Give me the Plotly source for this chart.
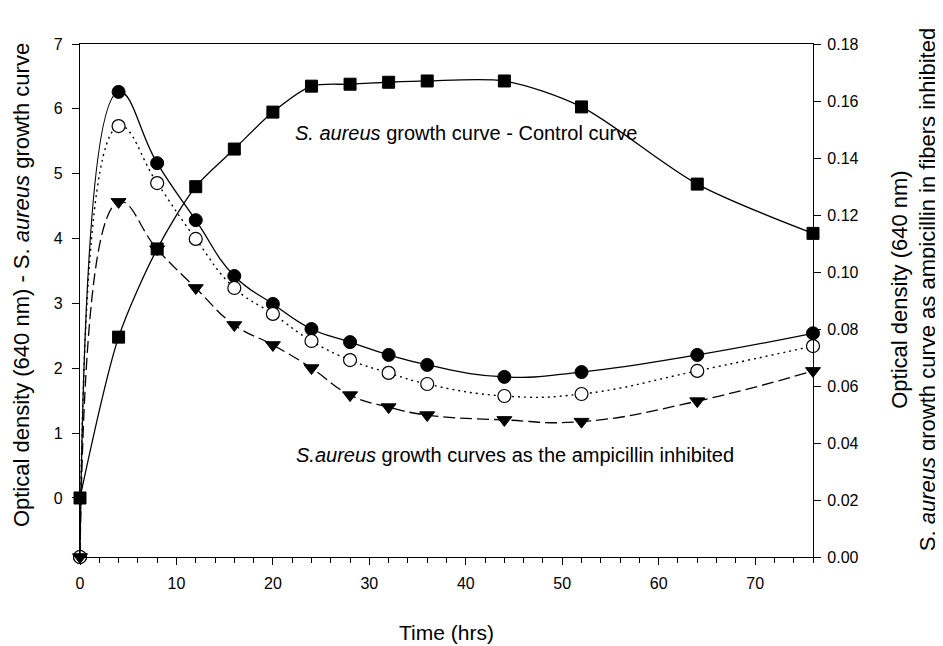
import plotly.graph_objects as go

# ---- data ----
time_hrs = [0, 4, 8, 12, 16, 20, 24, 28, 32, 36, 44, 52, 64, 76]
control_od = [0, 2.48, 3.84, 4.80, 5.38, 5.95, 6.35, 6.38, 6.41, 6.43, 6.43, 6.03, 4.84, 4.08]
inhib_filled = [0, 0.1632, 0.1382, 0.1182, 0.0986, 0.0888, 0.0800, 0.0754, 0.0709, 0.0674, 0.0632, 0.0649, 0.0709, 0.0785]
inhib_open = [0, 0.1512, 0.1312, 0.1116, 0.0944, 0.0853, 0.0758, 0.0691, 0.0646, 0.0607, 0.0565, 0.0572, 0.0653, 0.0740]
inhib_tri = [0, 0.1246, 0.1080, 0.0944, 0.0814, 0.0744, 0.0663, 0.0568, 0.0526, 0.0498, 0.0481, 0.0475, 0.0547, 0.0653]

x_ticks = [0, 10, 20, 30, 40, 50, 60, 70]
left_ticks = [0, 1, 2, 3, 4, 5, 6, 7]
right_ticks = [0.00, 0.02, 0.04, 0.06, 0.08, 0.10, 0.12, 0.14, 0.16, 0.18]

FONT = "Liberation Sans, Arial, sans-serif"
BLK = "black"

fig = go.Figure()

# inhibited series (right axis -> 'y', placed on right side)
fig.add_trace(go.Scatter(
    x=time_hrs, y=inhib_filled, yaxis="y", mode="lines+markers",
    line=dict(color=BLK, width=1.3, shape="spline", smoothing=1.3),
    marker=dict(symbol="circle", size=13, color=BLK, line=dict(color=BLK, width=1)),
    cliponaxis=False, showlegend=False))
fig.add_trace(go.Scatter(
    x=time_hrs, y=inhib_open, yaxis="y", mode="lines+markers",
    line=dict(color=BLK, width=1.4, shape="spline", smoothing=1.3, dash="2px,4px"),
    marker=dict(symbol="circle", size=13, color="white", line=dict(color=BLK, width=1.2)),
    cliponaxis=False, showlegend=False))
fig.add_trace(go.Scatter(
    x=time_hrs, y=inhib_tri, yaxis="y", mode="lines+markers",
    line=dict(color=BLK, width=1.3, shape="spline", smoothing=1.3, dash="12px,5px"),
    marker=dict(symbol="triangle-down", size=13, color=BLK, line=dict(color=BLK, width=1)),
    cliponaxis=False, showlegend=False))

# control curve (left axis -> 'y2' overlaying, side left)
fig.add_trace(go.Scatter(
    x=time_hrs, y=control_od, yaxis="y2", mode="lines+markers",
    line=dict(color=BLK, width=1.3, shape="spline", smoothing=0.8),
    marker=dict(symbol="square", size=12, color=BLK, line=dict(color=BLK, width=1)),
    cliponaxis=False, showlegend=False))

fig.update_layout(
    width=935, height=638,
    margin=dict(l=72, r=130, t=36, b=89, autoexpand=False),
    paper_bgcolor="white", plot_bgcolor="white",
    font=dict(family=FONT, size=16, color=BLK),
    xaxis=dict(
        range=[0, 76], tickvals=x_ticks, ticks="outside", ticklen=7, tickwidth=1,
        tickcolor=BLK, showline=True, linecolor=BLK, linewidth=1.2, mirror=True,
        showgrid=False, zeroline=False, ticklabelstandoff=5, automargin=False,
        minor=dict(dtick=2, tick0=0, ticks="outside", ticklen=5, tickcolor=BLK, showgrid=False),
        tickfont=dict(size=16),
    ),
    yaxis=dict(
        side="right", range=[0, 0.18], tickvals=right_ticks, tickformat=".2f",
        ticks="outside", ticklen=7, tickcolor=BLK, showline=True, linecolor=BLK,
        linewidth=1.2, showgrid=False, zeroline=False, tickfont=dict(size=16),
        ticklabelstandoff=3, automargin=False,
    ),
    yaxis2=dict(
        side="left", overlaying="y", range=[-0.91, 7], tickvals=left_ticks,
        ticks="outside", ticklen=7, tickcolor=BLK, showline=True, linecolor=BLK,
        linewidth=1.2, showgrid=False, zeroline=False, tickfont=dict(size=16),
        ticklabelstandoff=6, automargin=False,
    ),
    annotations=[
        dict(text="Time (hrs)", xref="paper", yref="paper", x=0.5, y=0, yshift=-75,
             xanchor="center", yanchor="middle", showarrow=False, font=dict(size=21)),
        dict(text="Optical density (640 nm) - S. <i>aureus</i> growth curve",
             xref="paper", yref="paper", x=0, y=0.53, xshift=-59, textangle=-90,
             xanchor="center", yanchor="middle", showarrow=False, font=dict(size=22)),
        dict(text="Optical density (640 nm)<br>S. <i>aureus</i> growth curve as ampicillin in fibers inhibited",
             xref="paper", yref="paper", x=1, y=0.52, xshift=101, textangle=-90,
             xanchor="center", yanchor="middle", showarrow=False, font=dict(size=22)),
        dict(text="<i>S. aureus</i> growth curve - Control curve",
             xref="x", yref="y2", x=22.1, y=5.63, xanchor="left", yanchor="middle",
             showarrow=False, font=dict(size=20)),
        dict(text="<i>S.aureus</i> growth curves as the ampicillin inhibited",
             xref="x", yref="y2", x=22.2, y=0.66, xanchor="left", yanchor="middle",
             showarrow=False, font=dict(size=20)),
    ],
)

fig.write_html("out.html")
